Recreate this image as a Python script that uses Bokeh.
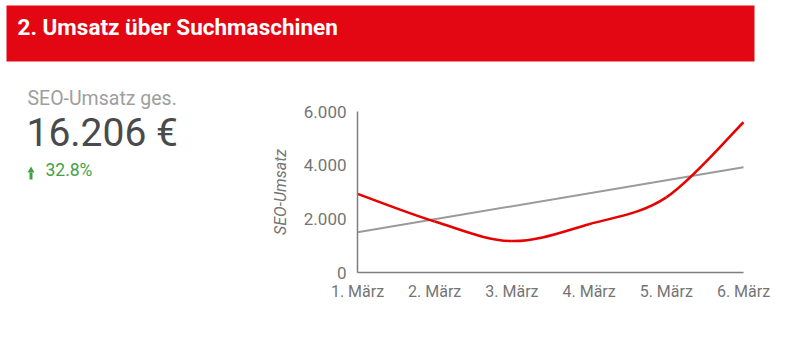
from bokeh.plotting import figure
from bokeh.models import Range1d, FixedTicker, LinearAxis
from bokeh.core.properties import value
from bokeh.embed import file_html
from bokeh.resources import INLINE

# ---- data ----
title = "2. Umsatz über Suchmaschinen"
kpi_label = "SEO-Umsatz ges."
kpi_value = "16.206 €"
kpi_change = "32.8%"
days = ["1. März", "2. März", "3. März", "4. März", "5. März", "6. März"]
umsatz = [2930, 1900, 1170, 1800, 2800, 5600]
trend = [1500, 3920]          # trend line at first and last day
y_ticks = [0, 2000, 4000, 6000]
y_tick_labels = ["0", "2.000", "4.000", "6.000"]
axis_title = "SEO-Umsatz"

W, H = 788, 348
FONT = value("Roboto")

# whole canvas is the frame; default ranges are canvas pixels (y downwards)
p = figure(width=W, height=H, x_range=Range1d(0, W), y_range=Range1d(H, 0),
           output_backend="svg", toolbar_location=None,
           x_axis_location=None, y_axis_location=None, min_border=0)
p.grid.grid_line_color = None
p.outline_line_color = None

# ---- header ----
p.quad(left=[6], right=[754], top=[5], bottom=[61], fill_color="#e30613", line_color=None)
p.text(x=[17], y=[26], text=[title], text_font=FONT, text_font_style="bold",
       text_font_size="22.5px", text_color="white", text_baseline="alphabetic")

# ---- KPI block ----
p.text(x=[27], y=[98], text=[kpi_label], text_font=FONT, text_font_size="19.5px",
       text_color="#9e9e9e", text_baseline="alphabetic")
p.text(x=[26], y=[132.5], text=[kpi_value], text_font=FONT, text_font_size="39px",
       text_color="#4a4a4a", text_baseline="alphabetic")
p.scatter(x=[30.5], y=[170], marker="triangle", size=7, fill_color="#43a047", line_color=None)
p.segment(x0=[30.5], y0=[172], x1=[30.5], y1=[179], line_color="#43a047", line_width=3)
p.text(x=[45], y=[169], text=[kpi_change], text_font=FONT, text_font_size="17.5px",
       text_color="#43a047", text_baseline="alphabetic")

# ---- line chart (own scales mapped onto the chart area) ----
n = len(umsatz)
xs = list(range(n))
CX0, CX1 = 357, 743          # chart area, canvas px
CY0, CY1 = 272, 111          # y=0 and y=6000, canvas px
YMAX = 6000
kx = (CX1 - CX0) / (n - 1)
ky = (CY0 - CY1) / YMAX
p.extra_x_ranges = {"days": Range1d(-CX0 / kx, (W - CX0) / kx)}
p.extra_y_ranges = {"sales": Range1d(-(H - CY0) / ky, CY0 / ky)}

# smooth curve through the data points (Catmull-Rom as cubic Bezier segments)
x0, y0, x1, y1, cx0, cy0, cx1, cy1 = [], [], [], [], [], [], [], []
for i in range(n - 1):
    xp, yp = xs[max(i - 1, 0)], umsatz[max(i - 1, 0)]
    xa, ya = xs[i], umsatz[i]
    xb, yb = xs[i + 1], umsatz[i + 1]
    xn, yn = xs[min(i + 2, n - 1)], umsatz[min(i + 2, n - 1)]
    x0.append(xa); y0.append(ya); x1.append(xb); y1.append(yb)
    cx0.append(xa + (xb - xp) / 6); cy0.append(ya + (yb - yp) / 6)
    cx1.append(xb - (xn - xa) / 6); cy1.append(yb - (yn - ya) / 6)

p.line(x=[xs[0], xs[-1]], y=trend, line_color="#9a9a9a", line_width=2,
       x_range_name="days", y_range_name="sales")
p.bezier(x0=x0, y0=y0, x1=x1, y1=y1, cx0=cx0, cy0=cy0, cx1=cx1, cy1=cy1,
         line_color="#e60000", line_width=2.5, x_range_name="days", y_range_name="sales")

xaxis = LinearAxis(x_range_name="days", y_range_name="sales", fixed_location=0,
                   bounds=(0, n - 1), ticker=FixedTicker(ticks=xs),
                   major_label_overrides={i: d for i, d in enumerate(days)},
                   major_label_standoff=9)
yaxis = LinearAxis(x_range_name="days", y_range_name="sales", fixed_location=0,
                   bounds=(0, YMAX), ticker=FixedTicker(ticks=y_ticks),
                   major_label_overrides=dict(zip(y_ticks, y_tick_labels)),
                   major_label_standoff=11, axis_label=axis_title,
                   axis_label_text_font="Roboto", axis_label_text_font_style="italic",
                   axis_label_text_font_size="16px", axis_label_text_color="#757575",
                   axis_label_standoff=11)
for ax in (xaxis, yaxis):
    ax.axis_line_color = "#7f7f7f"
    ax.axis_line_width = 1.5
    ax.major_tick_line_color = None
    ax.minor_tick_line_color = None
    ax.major_tick_out = 0
    ax.major_tick_in = 0
    ax.minor_tick_out = 0
    ax.minor_tick_in = 0
    ax.major_label_text_font = "Roboto"
    ax.major_label_text_color = "#757575"
xaxis.major_label_text_font_size = "16px"
yaxis.major_label_text_font_size = "17px"
p.add_layout(xaxis, "below")
p.add_layout(yaxis, "left")

open("out.html", "w").write(file_html(p, INLINE))
